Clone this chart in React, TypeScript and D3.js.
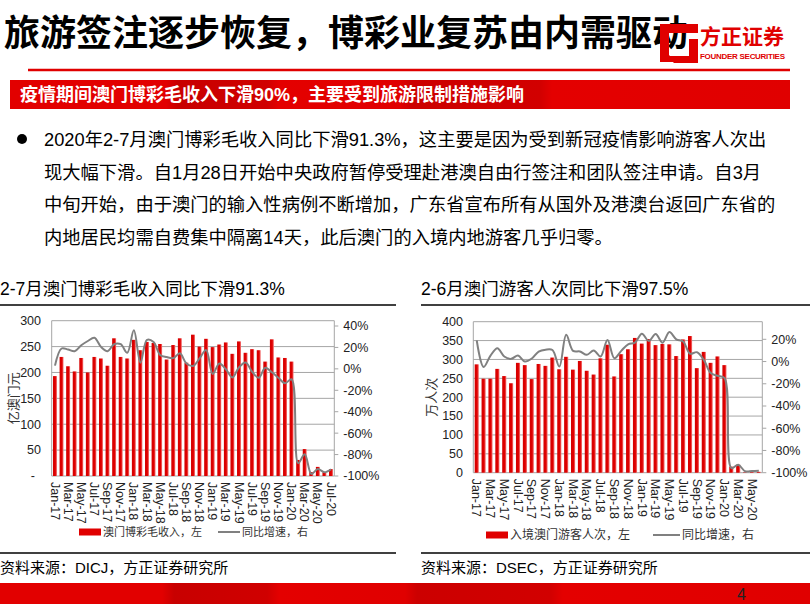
import * as d3 from 'd3';

const months = [
  'Jan-17', 'Feb-17', 'Mar-17', 'Apr-17', 'May-17', 'Jun-17', 'Jul-17', 'Aug-17', 'Sep-17', 'Oct-17', 'Nov-17', 'Dec-17',
  'Jan-18', 'Feb-18', 'Mar-18', 'Apr-18', 'May-18', 'Jun-18', 'Jul-18', 'Aug-18', 'Sep-18', 'Oct-18', 'Nov-18', 'Dec-18',
  'Jan-19', 'Feb-19', 'Mar-19', 'Apr-19', 'May-19', 'Jun-19', 'Jul-19', 'Aug-19', 'Sep-19', 'Oct-19', 'Nov-19', 'Dec-19',
  'Jan-20', 'Feb-20', 'Mar-20', 'Apr-20', 'May-20', 'Jun-20', 'Jul-20',
];

// 澳门博彩毛收入（亿澳门元）
const ggr = [
  193, 230, 212, 202, 228, 200, 230, 227, 213, 266, 230, 227,
  263, 243, 259, 257, 255, 225, 253, 266, 219, 273, 250, 265,
  249, 254, 258, 236, 260, 238, 245, 243, 221, 264, 229, 228,
  221, 31, 52, 7.5, 17.6, 7.2, 13.4,
];
// 同比增速 %
const ggrYoy = [
  3, 19, 18, 16.5, 22, 26, 29, 20.5, 16.5, 23, 23, 15,
  36, 5.8, 27, 25, 13, 11, 10, 14.5, 5, 2.7, 9.8, 17.5,
  -4.8, 5, -0.4, -8, 1.5, 6, -2.7, -8.3, 1.1, -3.2, -8.3, -13.5,
  -9.7, -88, -79.7, -98, -93.5, -96.5, -93.7,
];

const visitorMonths = months.slice(0, 42);
// 入境澳门游客人次（万人次）
const visitors = [
  287, 249, 249, 275, 256, 237, 291, 285, 248, 288, 283, 305,
  274, 307, 273, 296, 270, 260, 303, 339, 255, 314, 327, 357,
  342, 354, 338, 341, 340, 309, 353, 362, 277, 320, 291, 308,
  285, 16, 21, 1.1, 1.6, 2.3,
];
const visitorYoy = [
  19, -5, 5.4, 12, 4.5, 2.4, 5.4, 0, 2.7, 9, 10.7, 10.4,
  -4.5, 24, 9.6, 9, 6, 10, 4.5, 19.4, 3, 9.6, 15.5, 17,
  25, 18.5, 24.7, 17, 26.5, 20, 18, 7, 8.4, 1.5, -10.4, -12.8,
  -14.8, -95.8, -92.9, -98.7, -98.5, -98.2,
];

const ggrTicks = [0, 50, 100, 150, 200, 250, 300];
const ggrPctTicks = [-100, -80, -60, -40, -20, 0, 20, 40];
const visitorTicks = [0, 50, 100, 150, 200, 250, 300, 350, 400];
const visitorPctTicks = [-100, -80, -60, -40, -20, 0, 20];

const title = '旅游签注逐步恢复，博彩业复苏由内需驱动';
const banner = '疫情期间澳门博彩毛收入下滑90%，主要受到旅游限制措施影响';
const bodyLines = [
  '2020年2-7月澳门博彩毛收入同比下滑91.3%，这主要是因为受到新冠疫情影响游客人次出',
  '现大幅下滑。自1月28日开始中央政府暂停受理赴港澳自由行签注和团队签注申请。自3月',
  '中旬开始，由于澳门的输入性病例不断增加，广东省宣布所有从国外及港澳台返回广东省的',
  '内地居民均需自费集中隔离14天，此后澳门的入境内地游客几乎归零。',
];

const FONT = '"Liberation Sans", Arial, "Noto Sans CJK SC", sans-serif';
const RED = '#e00000';
const GRID = '#a6a6a6';
const LINE = '#808080';

interface ChartProps {
  cats: string[];
  bars: number[];
  line: number[];
  x0: number;
  x1: number;
  top: number;
  base: number;
  leftMax: number;
  leftTicks: number[];
  zeroDash: boolean;
  rightTop: number;
  rightMax: number;
  rightTicks: number[];
  yTitle: string;
  yTitleX: number;
  leftLabelX: number;
  barLegend: string;
  legendY: number;
  legendSize: number;
  barLegendX: number;
  lineLegendX: number;
  lineLegendW: number;
}

function ComboChart(p: ChartProps) {
  const x = d3.scaleBand<string>().domain(p.cats).range([p.x0, p.x1]).padding(0);
  const yL = d3.scaleLinear().domain([0, p.leftMax]).range([p.base, p.top]);
  const yR = d3.scaleLinear().domain([-100, p.rightMax]).range([p.base, p.rightTop]);
  const bw = x.bandwidth() * 0.6;
  const pts: [number, number][] = p.cats.map((c, i) => [x(c)! + x.bandwidth() / 2, yR(p.line[i])]);
  const path = d3.line().curve(d3.curveCatmullRom.alpha(0.5))(pts) || '';
  const yMid = (p.top + p.base) / 2;

  return (
    <g fontFamily={FONT}>
      {p.leftTicks.map((t) => (
        <g key={'l' + t}>
          <line x1={p.x0} x2={p.x1} y1={yL(t)} y2={yL(t)} stroke={GRID} strokeWidth={1} />
          <text x={p.zeroDash && t === 0 ? p.leftLabelX - 6 : p.leftLabelX} y={yL(t)} dy="0.35em" textAnchor="end" fontSize={12.5} fill="#222">
            {p.zeroDash && t === 0 ? '-' : t}
          </text>
        </g>
      ))}
      <line x1={p.x0} x2={p.x0} y1={p.top} y2={p.base} stroke={GRID} />
      <line x1={p.x1} x2={p.x1} y1={p.top} y2={p.base} stroke={GRID} />
      {p.rightTicks.map((t) => (
        <g key={'r' + t}>
          <line x1={p.x1} x2={p.x1 + 4} y1={yR(t)} y2={yR(t)} stroke={GRID} />
          <text x={p.x1 + 9} y={yR(t)} dy="0.35em" fontSize={12.5} fill="#222">{t + '%'}</text>
        </g>
      ))}
      {p.cats.map((c, i) => (
        <rect key={c} x={x(c)! + (x.bandwidth() - bw) / 2} y={yL(p.bars[i])} width={bw}
          height={p.base - yL(p.bars[i])} fill="url(#barGrad)" />
      ))}
      <path d={path} fill="none" stroke={LINE} strokeWidth={2} />
      {p.cats.map((c, i) => (i % 2 === 0 ? (
        <text key={'x' + c} transform={`translate(${x(c)! + x.bandwidth() / 2},${p.base + 6}) rotate(90)`}
          dy="0.35em" fontSize={12.5} fill="#222">{c}</text>
      ) : null))}
      <text transform={`translate(${p.yTitleX},${yMid}) rotate(-90)`} textAnchor="middle" dy="0.35em"
        fontSize={13} fill="#333">{p.yTitle}</text>
      <rect x={p.barLegendX} y={p.legendY - 3.5} width={22} height={7} fill={RED} />
      <text x={p.barLegendX + 24} y={p.legendY} dy="0.35em" fontSize={p.legendSize} fill="#333">{p.barLegend}</text>
      <line x1={p.lineLegendX} x2={p.lineLegendX + p.lineLegendW} y1={p.legendY} y2={p.legendY} stroke={LINE} strokeWidth={2} />
      <text x={p.lineLegendX + p.lineLegendW + 2} y={p.legendY} dy="0.35em" fontSize={p.legendSize} fill="#333">同比增速，右</text>
    </g>
  );
}

export default function App() {
  const stripes = [
    [0, '#e20000'], [0.2, '#e20000'], [0.215, '#c80000'], [0.33, '#d00000'], [0.345, '#e40000'],
    [0.5, '#e00000'], [0.515, '#cc0000'], [0.68, '#d20000'], [0.695, '#e40000'], [1, '#e00000'],
  ] as [number, string][];
  return (
    <svg width={810} height={604} style={{ position: 'absolute', left: 0, top: 0, background: '#fff' }}
      fontFamily={FONT}>
      <defs>
        <linearGradient id="barGrad" x1="0" x2="1" y1="0" y2="0">
          <stop offset="0" stopColor="#d40000" />
          <stop offset="0.6" stopColor="#e00000" />
          <stop offset="1" stopColor="#f58080" />
        </linearGradient>
        <linearGradient id="bandGrad" x1="0" x2="1" y1="0" y2="0">
          {stripes.map(([o, c], i) => <stop key={i} offset={o} stopColor={c} />)}
        </linearGradient>
      </defs>
      <rect width={810} height={604} fill="#fff" />

      {/* header */}
      <text x={4} y={46} fontSize={36} fontWeight={700} fill="#000" fontFamily='"Noto Sans CJK SC", sans-serif'>{title}</text>
      <path d="M660,24 h38 v9 h-29 v22 l7,7 h-16 z M689,39 h9 v24 h-24 l-7,-7 h22 z" fill={RED} />
      <text x={700} y={44} fontSize={21} fontWeight={700} fill={RED} fontFamily='"Noto Sans CJK SC", sans-serif'>方正证券</text>
      <text x={700} y={59} fontSize={8} fontWeight={700} fill={RED} textLength={85}>FOUNDER SECURITIES</text>
      <line x1={28} x2={790} y1={70} y2={70} stroke={RED} strokeWidth={2.5} />
      <rect x={10} y={80} width={780} height={29} fill="url(#bandGrad)" />
      <text x={20} y={101} fontSize={18} fontWeight={700} fill="#fff">{banner}</text>

      {/* body */}
      <circle cx={22} cy={139} r={5} fill="#000" />
      {bodyLines.map((l, i) => (
        <text key={i} x={44} y={146 + i * 32.7} fontSize={18.3} fill="#000">{l}</text>
      ))}

      {/* chart titles */}
      <text x={0} y={295} fontSize={17.5} fill="#000">2-7月澳门博彩毛收入同比下滑91.3%</text>
      <text x={421} y={295} fontSize={17.5} fill="#000">2-6月澳门游客人次同比下滑97.5%</text>
      <line x1={0} x2={396} y1={305} y2={305} stroke="#000" strokeWidth={1.5} />
      <line x1={421} x2={810} y1={305} y2={305} stroke="#000" strokeWidth={1.5} />

      <ComboChart cats={months} bars={ggr} line={ggrYoy} x0={51.7} x1={334.3} top={320.7} base={476}
        leftMax={300} leftTicks={ggrTicks} zeroDash rightTop={326} rightMax={40} rightTicks={ggrPctTicks}
        yTitle="亿澳门元" yTitleX={13} leftLabelX={41} barLegend="澳门博彩毛收入，左" legendY={532}
        legendSize={11} barLegendX={79} lineLegendX={218} lineLegendW={22} />
      <ComboChart cats={visitorMonths} bars={visitors} line={visitorYoy} x0={473.3} x1={762.3} top={321.7} base={472.7}
        leftMax={400} leftTicks={visitorTicks} zeroDash={false} rightTop={339.3} rightMax={20} rightTicks={visitorPctTicks}
        yTitle="万人次" yTitleX={431} leftLabelX={463} barLegend="入境澳门游客人次，左" legendY={535}
        legendSize={12} barLegendX={486} lineLegendX={653} lineLegendW={27} />

      <line x1={0} x2={396} y1={553} y2={553} stroke="#000" strokeWidth={1.5} />
      <line x1={421} x2={810} y1={553} y2={553} stroke="#000" strokeWidth={1.5} />
      <text x={0} y={573} fontSize={15} fill="#000">资料来源：DICJ，方正证券研究所</text>
      <text x={421} y={573} fontSize={15} fill="#000">资料来源：DSEC，方正证券研究所</text>

      {/* footer */}
      <rect x={0} y={583} width={810} height={21} fill="url(#bandGrad)" />
      <text x={737} y={600} fontSize={16} fill="#222">4</text>
    </svg>
  );
}
